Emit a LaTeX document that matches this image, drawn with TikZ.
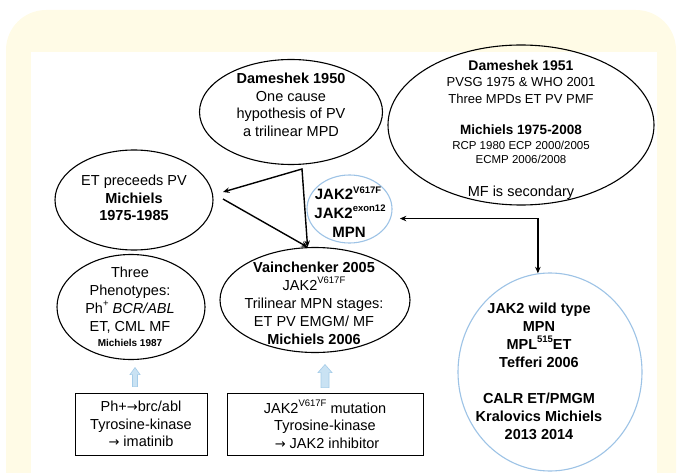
\documentclass[tikz,border=0pt]{standalone}
\usepackage{fontspec}
\setmainfont{Liberation Sans}
\newfontfamily\arrowfont{DejaVu Sans}
\usetikzlibrary{shapes.geometric,arrows.meta,calc}
\definecolor{cream}{HTML}{FFFBE6}
\definecolor{lblue}{HTML}{9DC3E6}
\definecolor{afill}{HTML}{C9E2F3}
\definecolor{aline}{HTML}{A5CCE8}
\newcommand\sups[1]{\raisebox{0.45em}{\fontsize{9.5}{9.5}\selectfont #1}}
\newcommand\rarr{{\arrowfont\fontsize{13}{13}\selectfont →}}
\begin{document}
\begin{tikzpicture}[x=1pt,y=-1pt,
  >={Stealth[length=6.5pt,width=5.5pt]},
  ell/.style={ellipse, draw=black, line width=1.1pt, inner sep=0pt},
  bell/.style={ellipse, draw=lblue, line width=1.1pt, inner sep=0pt},
  txt/.style={align=center, font=\fontsize{14.5}{17.5}\selectfont, inner sep=0pt},
  lineb/.style={inner sep=0pt, anchor=base, font=\fontsize{15}{18}\selectfont\bfseries},
  txtb/.style={txt, font=\fontsize{14.5}{18}\selectfont\bfseries},
  boxn/.style={draw=black, line width=0.9pt, inner sep=0pt, align=center,
    font=\fontsize{14.5}{17.5}\selectfont},
  conn/.style={line width=1.4pt, line join=miter},
  barrow/.style={draw=aline, fill=afill, line width=0.6pt},
]
\useasboundingbox (0,0) rectangle (682,473);
\clip (0,0) rectangle (682,473);
\fill[cream, rounded corners=40pt] (6,10) rectangle (676,540);
\fill[white] (31,52) rectangle (657,473);

% Dameshek 1950
\node[ell, minimum width=183pt, minimum height=105pt] (d50) at (291,112) {};
\node[txt] (d50t) at (291,105) {\textbf{Dameshek 1950}\\One cause\\hypothesis of PV\\a trilinear MPD};

% Dameshek 1951
\node[ell, minimum width=266pt, minimum height=160pt] (d51) at (521,125) {};
\node[inner sep=0pt, font=\fontsize{14}{16}\selectfont\bfseries] (d51a) at (521,65) {Dameshek 1951};
\node[inner sep=0pt, align=center, font=\fontsize{13}{17}\selectfont] (d51b) at (521,90.5) {PVSG 1975 \& WHO 2001\\Three MPDs ET PV PMF};
\node[inner sep=0pt, font=\fontsize{13.5}{16}\selectfont\bfseries] (d51c) at (521,130) {Michiels 1975-2008};
\node[inner sep=0pt, align=center, font=\fontsize{11.5}{13.5}\selectfont] (d51d) at (521,152.5) {RCP 1980 ECP 2000/2005\\ECMP 2006/2008};
\node[inner sep=0pt, font=\fontsize{14.5}{16}\selectfont] (d51e) at (521,193) {MF is secondary};

% ET preceeds PV
\node[ell, minimum width=158pt, minimum height=100pt] (et) at (134,200) {};
\node[txt] (ett) at (134,198) {ET preceeds PV\\\textbf{Michiels}\\\textbf{1975-1985}};

% Three phenotypes
\node[ell, minimum width=148pt, minimum height=105pt] (ph) at (131,307) {};
\node[txt, font=\fontsize{14.5}{18}\selectfont] (pht) at (130,300) {Three\\Phenotypes:\\Ph\sups{+} \textit{BCR/ABL}\\ET, CML MF};
\node[inner sep=0pt, font=\fontsize{10}{12}\selectfont\bfseries] (pht2) at (130,343) {Michiels 1987};

% Vainchenker
\node[ell, minimum width=190pt, minimum height=105pt] (vn) at (315,300) {};
\node[txt, font=\fontsize{14.5}{18}\selectfont] (vnt) at (314,303) {\textbf{Vainchenker 2005}\\JAK2\sups{V617F}\\Trilinear MPN stages:\\ET PV EMGM/ MF\\\textbf{Michiels 2006}};

% JAK2 small
\node[bell, minimum width=85pt, minimum height=68pt] (jak) at (349.5,209) {};
\node[lineb] (jak1) at (348,200) {JAK2\sups{V617F}};
\node[lineb] (jak2) at (350,218.5) {JAK2\sups{exon12}};
\node[lineb] (jak3) at (349,237) {MPN};

% Big circle
\node[bell, minimum width=184pt, minimum height=198pt] (big) at (550,372) {};
\node[txtb] (bigt1) at (539,335) {JAK2 wild type\\MPN\\MPL\sups{515}ET\\Tefferi 2006};
\node[txtb] (bigt2) at (539,416) {CALR ET/PMGM\\Kralovics Michiels\\2013 2014};

% Boxes
\node[boxn, minimum width=132pt, minimum height=62pt] (b1) at (141,424) {Ph+\rarr brc/abl\\Tyrosine-kinase\\\rarr\ imatinib};
\node[boxn, minimum width=196pt, minimum height=62pt] (b2) at (325,424) {JAK2\sups{V617F} mutation\\Tyrosine-kinase\\\ \rarr\ JAK2 inhibitor};

% Black connectors
\coordinate (tp) at (302,169);
\coordinate (etA) at (223,192);
\coordinate (etB) at (223,199);
\draw[conn, <->] (etA) -- (tp) -- (vn.98);
\draw[conn, ->] (etB) -- (vn.98);
\draw[conn, <->, shorten <=9pt] (jak.-13) -| (big.97);

% Blue arrows
\draw[barrow] ($(b1.north)+(-8.5,-6)$) -- ++(0,-12) -- ++(-2.5,0) -- ($(b1.north)+(-6,-25)$)
  -- ($(b1.north)+(-1,-18)$) -- ++(-2.5,0) -- ++(0,12) -- cycle;
\draw[barrow] ($(b2.north)+(-4,-5)$) -- ++(0,-15) -- ++(-3,0) -- ($(b2.north)+(0,-28)$)
  -- ($(b2.north)+(7,-20)$) -- ++(-3,0) -- ++(0,15) -- cycle;
\end{tikzpicture}
\end{document}
